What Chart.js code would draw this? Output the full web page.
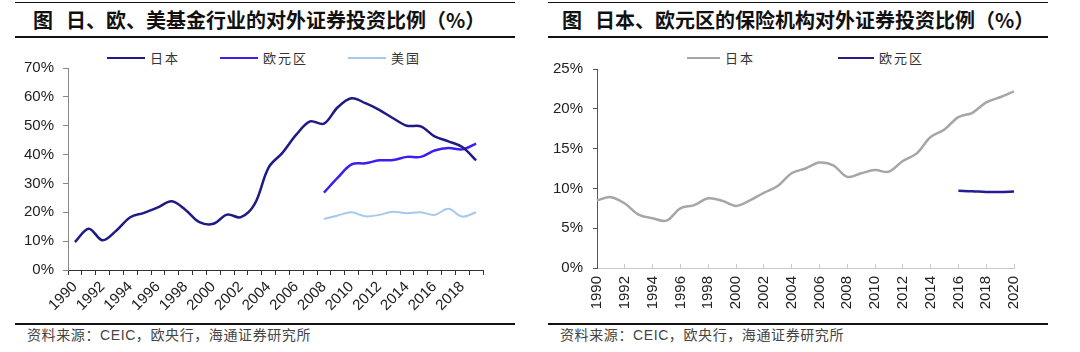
<!DOCTYPE html>
<html>
<head>
<meta charset="utf-8">
<script src="https://cdn.jsdelivr.net/npm/chart.js@4.4.1/dist/chart.umd.min.js"></script>
<style>
  body{margin:0;background:#fff;width:1080px;height:352px;position:relative;overflow:hidden;
       font-family:"Liberation Sans",Arial,sans-serif;color:#222}
  .rule{position:absolute;background:#111}
  .title{position:absolute;top:8px;font:bold 20px/24px "Noto Sans CJK SC",sans-serif;color:#111;white-space:nowrap}
  .title span{margin-left:13px}
  .src{position:absolute;top:325px;font:14px/18px "Noto Sans CJK SC",sans-serif;color:#444;letter-spacing:0.6px}
  .src .lat{font-family:"Liberation Sans",Arial,sans-serif}
  .box{position:absolute;top:50px;width:540px;height:272px}
  .legend{position:absolute;top:49px;display:flex;align-items:center;height:18px}
  .legend .it{display:flex;align-items:center}
  .legend .ln{display:inline-block;margin-right:5px}
  .legend .tx{font:13px/18px "Noto Sans CJK SC",sans-serif;color:#333;letter-spacing:2px}
</style>
</head>
<body>
<!-- left: 日、欧、美基金 -->
<div class="rule" style="left:15px;top:2px;width:500px;height:1px"></div>
<div class="title" style="left:33px">图<span>日、欧、美基金行业的对外证券投资比例（%）</span></div>
<div class="rule" style="left:15px;top:36px;width:500px;height:2px"></div>
<div class="legend" id="legA" style="left:107px"></div>
<div class="box" style="left:0px"><canvas id="chartA"></canvas></div>
<div class="rule" style="left:15px;top:323px;width:500px;height:2px"></div>
<div class="src" style="left:27px">资料来源：<span class="lat">CEIC</span>，欧央行，海通证券研究所</div>

<!-- right: 保险机构 -->
<div class="rule" style="left:548px;top:2px;width:500px;height:1px"></div>
<div class="title" style="left:562px">图<span>日本、欧元区的保险机构对外证券投资比例（%）</span></div>
<div class="rule" style="left:548px;top:36px;width:500px;height:2px"></div>
<div class="legend" id="legB" style="left:687px"></div>
<div class="box" style="left:540px"><canvas id="chartB"></canvas></div>
<div class="rule" style="left:548px;top:323px;width:500px;height:2px"></div>
<div class="src" style="left:560px">资料来源：<span class="lat">CEIC</span>，欧央行，海通证券研究所</div>

<script>
// ---- data: funds (left) ----
const YEARS_A = ["1990","1991","1992","1993","1994","1995","1996","1997","1998","1999",
                 "2000","2001","2002","2003","2004","2005","2006","2007","2008","2009",
                 "2010","2011","2012","2013","2014","2015","2016","2017","2018","2019"];
const FUND_JP = [9.7,14.3,10.3,13.7,18.3,19.8,21.7,23.8,20.8,16.6,
                 16.0,19.2,18.3,22.9,35.5,40.6,46.9,51.5,50.7,56.4,
                 59.5,57.8,55.5,52.6,50.0,49.8,46.3,44.6,42.6,38.0];
const FUND_EA = [null,null,null,null,null,null,null,null,null,null,
                 null,null,null,null,null,null,null,null,26.8,32.0,
                 36.6,37.0,38.0,38.1,39.2,39.2,41.4,42.3,41.8,43.8];
const FUND_US = [null,null,null,null,null,null,null,null,null,null,
                 null,null,null,null,null,null,null,null,17.7,18.9,
                 20.0,18.6,19.1,20.2,19.7,20.0,19.1,21.2,18.5,20.0];

// ---- data: insurers (right) ----
const YEARS_B = ["1990","1991","1992","1993","1994","1995","1996","1997","1998","1999",
                 "2000","2001","2002","2003","2004","2005","2006","2007","2008","2009",
                 "2010","2011","2012","2013","2014","2015","2016","2017","2018","2019","2020"];
const INS_JP = [8.5,8.9,8.1,6.7,6.25,5.95,7.5,7.9,8.75,8.45,
                7.8,8.5,9.45,10.3,11.9,12.5,13.25,12.9,11.45,11.9,
                12.3,12.1,13.45,14.4,16.45,17.4,18.95,19.5,20.8,21.45,22.2];
const INS_EA = [null,null,null,null,null,null,null,null,null,null,
                null,null,null,null,null,null,null,null,null,null,
                null,null,null,null,null,null,9.7,9.65,9.55,9.55,9.6];

const TICK_FONT = {family:"Liberation Sans", size:15};
const pct = v => v + "%";

function htmlLegend(el, chart, gap){
  el.style.gap = gap + "px";
  el.innerHTML = chart.data.datasets.map(d =>
    `<div class="it"><span class="ln" style="width:${d.legendLen}px;height:${d.borderWidth}px;background:${d.borderColor}"></span>` +
    `<span class="tx">${d.label}</span></div>`).join("");
}

const chartA = new Chart(document.getElementById("chartA"), {
  type: "line",
  data: {
    labels: YEARS_A,
    datasets: [
      {label:"日本",   data:FUND_JP, borderColor:"#1f1a86", borderWidth:2.5, legendLen:38},
      {label:"欧元区", data:FUND_EA, borderColor:"#3a1ff0", borderWidth:2.5, legendLen:38},
      {label:"美国",   data:FUND_US, borderColor:"#a6c8ec", borderWidth:2,   legendLen:38},
    ]
  },
  options: {
    responsive:true, maintainAspectRatio:false, animation:false,
    elements:{point:{radius:0}, line:{tension:0.35}},
    layout:{padding:{left:0, right:57, top:16, bottom:0}},
    plugins:{legend:{display:false}, tooltip:{enabled:false}},
    scales:{
      x:{
        offset:true,
        grid:{offset:true, drawOnChartArea:false, tickLength:5, color:"#333"},
        border:{color:"#333"},
        ticks:{autoSkip:false, minRotation:45, maxRotation:45, padding:3, color:"#222", font:TICK_FONT,
               callback:(v,i)=> i%2===0 ? YEARS_A[i] : ""},
        afterFit:s=>{ s.height = 52; }
      },
      y:{
        min:0, max:70,
        grid:{drawOnChartArea:false, tickLength:5, color:"#888"},
        border:{color:"#888"},
        ticks:{stepSize:10, padding:9, color:"#222", font:TICK_FONT, callback:pct},
        afterFit:s=>{ s.width = 68; }
      }
    }
  }
});
htmlLegend(document.getElementById("legA"), chartA, 40);

const chartB = new Chart(document.getElementById("chartB"), {
  type: "line",
  data: {
    labels: YEARS_B,
    datasets: [
      {label:"日本",   data:INS_JP, borderColor:"#a6a6a6", borderWidth:2.5, legendLen:33},
      {label:"欧元区", data:INS_EA, borderColor:"#241c8f", borderWidth:2.5, legendLen:36},
    ]
  },
  options: {
    responsive:true, maintainAspectRatio:false, animation:false,
    elements:{point:{radius:0}, line:{tension:0.35}},
    layout:{padding:{left:0, right:66, top:18, bottom:0}},
    plugins:{legend:{display:false}, tooltip:{enabled:false}},
    scales:{
      x:{
        offset:false,
        grid:{drawOnChartArea:false, tickLength:-4, color:"#c8c8c8"},
        border:{color:"#c8c8c8"},
        ticks:{autoSkip:false, minRotation:90, maxRotation:90, padding:12, color:"#222", font:TICK_FONT},
        afterBuildTicks:s=>{ s.ticks = s.ticks.filter((t,i)=> i%2===0); },
        afterFit:s=>{ s.height = 54; }
      },
      y:{
        min:0, max:25,
        grid:{drawOnChartArea:false, tickLength:4, color:"#555"},
        border:{color:"#555"},
        ticks:{stepSize:5, padding:10, color:"#222", font:TICK_FONT, callback:pct},
        afterFit:s=>{ s.width = 57; }
      }
    }
  }
});
htmlLegend(document.getElementById("legB"), chartB, 83);
</script>
</body>
</html>
